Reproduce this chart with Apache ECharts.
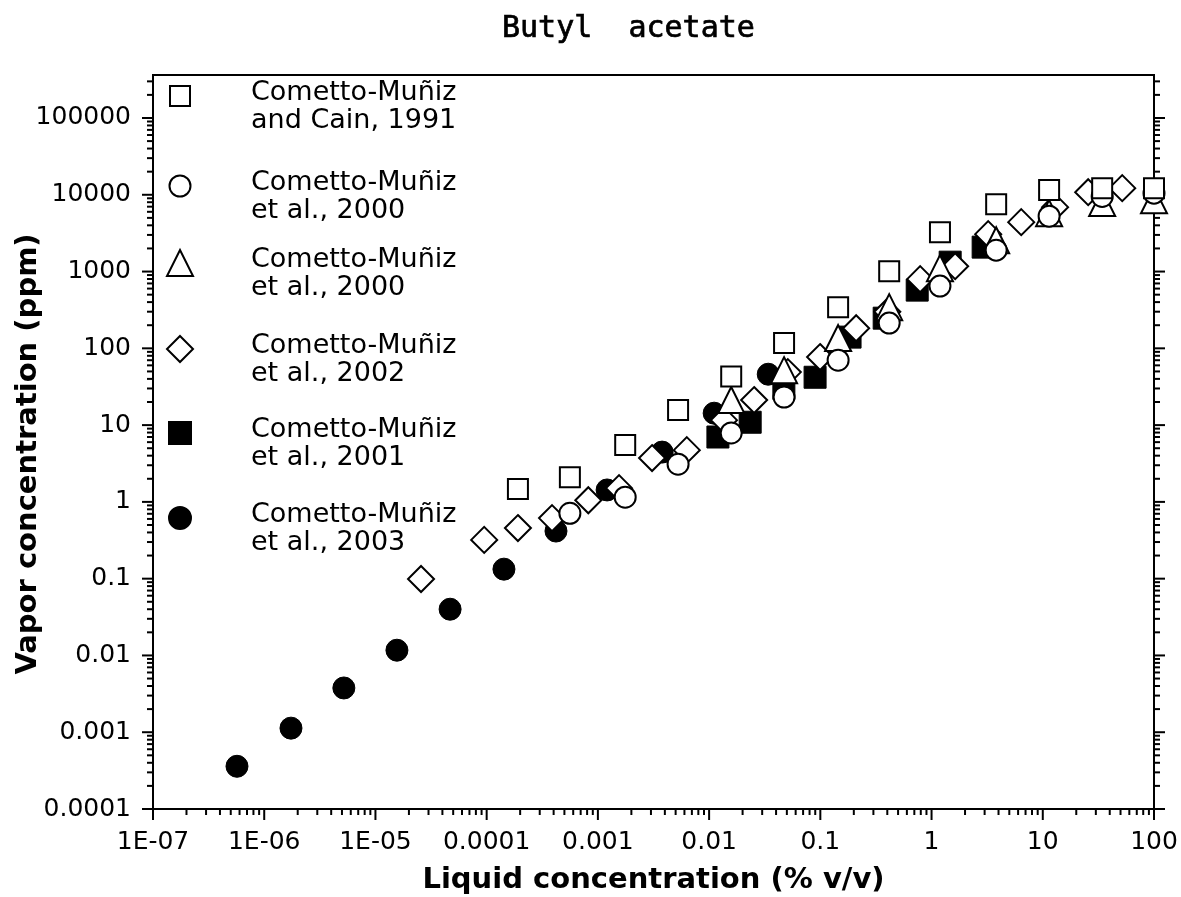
<!DOCTYPE html>
<html>
<head>
<meta charset="utf-8">
<title>Butyl acetate</title>
<script src="https://cdn.jsdelivr.net/npm/echarts@6/dist/echarts.min.js"></script>
<style>
  html, body { margin: 0; padding: 0; background: #fff; }
  #chart { width: 1181px; height: 897px; }
</style>
</head>
<body>
<div id="chart"></div>
<script>
// Butyl acetate: vapor concentration (ppm) vs liquid concentration (% v/v)

// Axis tick labels, one per decade
const xTickLabels = ['1E-07', '1E-06', '1E-05', '0.0001', '0.001', '0.01', '0.1', '1', '10', '100'];
const yTickLabels = ['0.0001', '0.001', '0.01', '0.1', '1', '10', '100', '1000', '10000', '100000'];

// Series keys and their legend labels (two lines each)
const seriesKeys = ['cain1991', 'circle2000', 'triangle2000', 'diamond2002', 'square2001', 'dot2003'];
const legendLabels = {
  cain1991: ['Cometto-Muñiz', 'and Cain, 1991'],
  circle2000: ['Cometto-Muñiz', 'et al., 2000'],
  triangle2000: ['Cometto-Muñiz', 'et al., 2000'],
  diamond2002: ['Cometto-Muñiz', 'et al., 2002'],
  square2001: ['Cometto-Muñiz', 'et al., 2001'],
  dot2003: ['Cometto-Muñiz', 'et al., 2003']
};

// Cometto-Muñiz and Cain, 1991 (open squares)
const cain1991X = [1.91e-4, 5.6e-4, 1.76e-3, 5.26e-3, 0.0158, 0.0472, 0.1445, 0.416, 1.19, 3.81, 11.4, 34.2, 100];
const cain1991Y = [1.47, 2.1, 5.5, 15.7, 43, 117, 344, 1012, 3260, 7550, 11500, 12200, 12200];

// Cometto-Muñiz et al., 2000 (open circles)
const circle2000X = [5.6e-4, 1.76e-3, 5.26e-3, 0.0158, 0.0472, 0.1445, 0.416, 1.19, 3.81, 11.4, 34.2, 100];
const circle2000Y = [0.71, 1.15, 3.1, 7.9, 23.2, 70, 213, 646, 1900, 5260, 9500, 10500];

// Cometto-Muñiz et al., 2000 (open triangles)
const triangle2000X = [0.0158, 0.0472, 0.1445, 0.416, 1.19, 3.81, 11.4, 34.2, 100];
const triangle2000Y = [21.2, 52, 136, 344, 1107, 2560, 5760, 7800, 8500];

// Cometto-Muñiz et al., 2002 (open diamonds)
const diamond2002X = [2.57e-5, 9.5e-5, 1.91e-4, 3.87e-4, 8.2e-4, 1.55e-3, 3.07e-3, 6.3e-3, 0.0136, 0.0254, 0.051, 0.0995, 0.21, 0.4, 0.79, 1.63, 3.23, 6.4, 12.9, 25.6, 51.8];
const diamond2002Y = [0.099, 0.32, 0.456, 0.615, 1.05, 1.51, 3.72, 4.72, 11.6, 21.2, 49, 77, 183, 300, 796, 1175, 3070, 4400, 6900, 10800, 12200];

// Cometto-Muñiz et al., 2001 (filled squares)
const square2001X = [0.012, 0.0234, 0.047, 0.0897, 0.185, 0.375, 0.743, 1.47, 2.91];
const square2001Y = [7.0, 10.9, 30, 42, 140, 247, 573, 1325, 2080];

// Cometto-Muñiz et al., 2003 (filled circles)
const dot2003X = [5.69e-7, 1.74e-6, 5.2e-6, 1.56e-5, 4.69e-5, 1.43e-4, 4.2e-4, 1.21e-3, 3.78e-3, 0.0111, 0.034];
const dot2003Y = [3.6e-4, 1.13e-3, 3.77e-3, 0.0117, 0.040, 0.133, 0.417, 1.43, 4.45, 14.3, 46];

// Axis ranges
const xMin = 1e-7, xMax = 100;
const yMin = 1e-4, yMax = Math.pow(10, 5.56);

const zip = (xs, ys) => xs.map((x, i) => [x, ys[i]]);

// Marker styles per series
const markerStyle = {
  cain1991:     { symbol: 'rect',     size: 20, fill: '#fff', data: zip(cain1991X, cain1991Y),       iconY: 96 },
  circle2000:   { symbol: 'circle',   size: 21, fill: '#fff', data: zip(circle2000X, circle2000Y),   iconY: 186 },
  triangle2000: { symbol: 'triangle', size: 26, fill: '#fff', data: zip(triangle2000X, triangle2000Y), iconY: 263 },
  diamond2002:  { symbol: 'diamond',  size: 26, fill: '#fff', data: zip(diamond2002X, diamond2002Y), iconY: 349 },
  square2001:   { symbol: 'rect',     size: 22, fill: '#000', data: zip(square2001X, square2001Y),   iconY: 433 },
  dot2003:      { symbol: 'circle',   size: 22, fill: '#000', data: zip(dot2003X, dot2003Y),         iconY: 518 }
};

// Drawing order: later series sit on top
const drawOrder = ['dot2003', 'square2001', 'diamond2002', 'triangle2000', 'circle2000', 'cain1991'];

function logTicks(lo, hi) {
  const out = [];
  const e0 = Math.floor(Math.log10(lo) + 1e-9);
  const e1 = Math.ceil(Math.log10(hi) - 1e-9);
  for (let e = e0; e <= e1; e++) {
    for (let m = 1; m <= 9; m++) {
      const v = m * Math.pow(10, e);
      if (v >= lo * 0.999999 && v <= hi * 1.000001) out.push({ v: v, major: m === 1 });
    }
  }
  return out;
}
const xTicks = logTicks(xMin, xMax);
const yTicks = logTicks(yMin, yMax);

function decadeLabel(labels, minExp) {
  return function (v) {
    const e = Math.log10(v);
    const r = Math.round(e);
    if (Math.abs(e - r) > 1e-6) return '';
    const s = labels[r - minExp];
    return s === undefined ? '' : s;
  };
}

const FONT = 'DejaVu Sans';
const MAJOR = 11, MINOR = 6;

const scatterSeries = drawOrder.map(key => {
  const m = markerStyle[key];
  return {
    type: 'scatter',
    name: key,
    data: m.data,
    symbol: m.symbol,
    symbolSize: m.size,
    itemStyle: { color: m.fill, borderColor: '#000', borderWidth: m.fill === '#fff' ? 2 : 1, opacity: 1 },
    emphasis: { disabled: true },
    animation: false
  };
});

// Log-scale tick marks (major + 2..9 minors) on the left, right and bottom frame
const tickSeries = {
  type: 'custom',
  name: 'axisTicks',
  silent: true,
  animation: false,
  clip: false,
  data: [[1, 1]],
  renderItem: function (params, api) {
    const bl = api.coord([xMin, yMin]);
    const tr = api.coord([xMax, yMax]);
    const children = [];
    const st = { stroke: '#000', lineWidth: 2 };
    xTicks.forEach(t => {
      const x = api.coord([t.v, yMin])[0];
      const len = t.major ? MAJOR : MINOR;
      children.push({ type: 'line', shape: { x1: x, y1: bl[1], x2: x, y2: bl[1] + len }, style: st });
    });
    yTicks.forEach(t => {
      const y = api.coord([xMin, t.v])[1];
      const len = t.major ? MAJOR : MINOR;
      children.push({ type: 'line', shape: { x1: bl[0] - len, y1: y, x2: bl[0], y2: y }, style: st });
      children.push({ type: 'line', shape: { x1: tr[0], y1: y, x2: tr[0] + len, y2: y }, style: st });
    });
    return { type: 'group', children: children };
  }
};

// One legend block per series, each placed on its own row.
// A short spacer line on top drops the two text lines a little below the icon centre.
const legends = seriesKeys.map(key => {
  const m = markerStyle[key];
  const w = m.size;
  return {
    data: [key],
    orient: 'vertical',
    left: 179 - w / 2,
    top: m.iconY - 33,
    padding: 0,
    itemWidth: w,
    itemHeight: w,
    selectedMode: false,
    formatter: name => '{s| }\n{t|' + legendLabels[name][0] + '}\n{t|' + legendLabels[name][1] + '}',
    textStyle: {
      fontFamily: FONT,
      fontSize: 27,
      color: '#000',
      padding: [0, 0, 0, 66 - w / 2],
      rich: {
        s: { fontSize: 10, lineHeight: 22 },
        t: { fontFamily: FONT, fontSize: 27, lineHeight: 28, color: '#000' }
      }
    }
  };
});

const chart = echarts.init(document.getElementById('chart'), null, { renderer: 'canvas' });
chart.setOption({
  animation: false,
  backgroundColor: '#fff',
  title: {
    text: 'Butyl  acetate',
    left: 502,
    top: 14,
    padding: 0,
    textStyle: {
      fontFamily: 'DejaVu Sans Mono', fontSize: 30, fontWeight: 'normal', color: '#000',
      textBorderColor: '#000', textBorderWidth: 0.7
    }
  },
  legend: legends,
  grid: {
    left: 153, right: 27, top: 75, bottom: 88,
    outerBoundsMode: 'none',
    containLabel: false,
    show: true, borderColor: '#000', borderWidth: 2, backgroundColor: 'transparent'
  },
  xAxis: {
    type: 'log',
    logBase: 10,
    min: xMin,
    max: xMax,
    interval: 1,
    axisLine: { show: true, lineStyle: { color: '#000', width: 2 } },
    axisTick: { show: false },
    minorTick: { show: false },
    splitLine: { show: false },
    axisLabel: {
      margin: 21,
      fontFamily: FONT,
      fontSize: 25,
      color: '#000',
      formatter: decadeLabel(xTickLabels, -7)
    },
    name: 'Liquid concentration (% v/v)',
    nameLocation: 'middle',
    nameGap: 57,
    nameMoveOverlap: false,
    nameTextStyle: { fontFamily: FONT, fontSize: 29, fontWeight: 'bold', color: '#000' }
  },
  yAxis: {
    type: 'log',
    logBase: 10,
    min: yMin,
    max: yMax,
    interval: 1,
    axisLine: { show: true, lineStyle: { color: '#000', width: 2 } },
    axisTick: { show: false },
    minorTick: { show: false },
    splitLine: { show: false },
    axisLabel: {
      margin: 22,
      fontFamily: FONT,
      fontSize: 25,
      color: '#000',
      showMaxLabel: false,
      formatter: decadeLabel(yTickLabels, -4)
    },
    name: 'Vapor concentration (ppm)',
    nameLocation: 'middle',
    nameGap: 110,
    nameMoveOverlap: false,
    nameTextStyle: { fontFamily: FONT, fontSize: 29, fontWeight: 'bold', color: '#000', padding: [0, 24, 0, 0] }
  },
  series: [tickSeries].concat(scatterSeries)
});
</script>
</body>
</html>
